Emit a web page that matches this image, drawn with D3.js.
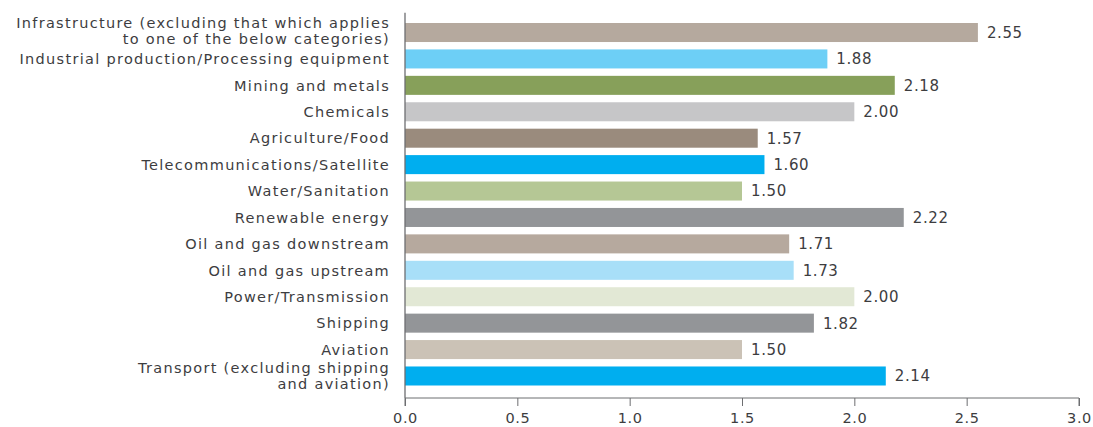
<!DOCTYPE html>
<html><head><meta charset="utf-8">
<script src="https://cdn.jsdelivr.net/npm/d3@7"></script>
<style>
html,body{margin:0;padding:0;background:#fff;}
svg text{font-family:"DejaVu Sans",sans-serif;}
</style></head>
<body><svg id="c" width="1093" height="427"></svg>
<script>
const categories = [
  ["Infrastructure (excluding that which applies","to one of the below categories)"],
  ["Industrial production/Processing equipment"],
  ["Mining and metals"],
  ["Chemicals"],
  ["Agriculture/Food"],
  ["Telecommunications/Satellite"],
  ["Water/Sanitation"],
  ["Renewable energy"],
  ["Oil and gas downstream"],
  ["Oil and gas upstream"],
  ["Power/Transmission"],
  ["Shipping"],
  ["Aviation"],
  ["Transport (excluding shipping","and aviation)"]
];
const values = [2.55, 1.88, 2.18, 2.00, 1.57, 1.60, 1.50, 2.22, 1.71, 1.73, 2.00, 1.82, 1.50, 2.14];
const colors = ["#b5a99e","#6dcff6","#87a05a","#c6c6c8","#9a8b7d","#00aeef","#b5c795","#939598","#b6a99e","#a8dff8","#e2e8d5","#939598","#cbc2b6","#00aeef"];
const xTicks = [0, 0.5, 1.0, 1.5, 2.0, 2.5, 3.0];

const svg = d3.select("#c");
const x0 = 405, x1 = 1079, yTop = 12.7, yBase = 398;
const x = d3.scaleLinear().domain([0, 3]).range([x0, x1]);
const idx = d3.range(values.length);
const y = d3.scaleBand().domain(idx).range([19.3, 389.2]).paddingInner(0.28).paddingOuter(0.14);

const axisColor = "#6d6e71";
const textColor = "#3d3d3f";

// bars
svg.append("g").selectAll("rect").data(idx).join("rect")
  .attr("x", x(0)).attr("y", i => y(i))
  .attr("width", i => x(values[i]) - x(0))
  .attr("height", y.bandwidth())
  .attr("fill", i => colors[i]);

// value labels
svg.append("g").selectAll("text").data(idx).join("text")
  .attr("x", i => x(values[i]) + 9)
  .attr("y", i => y(i) + y.bandwidth()/2)
  .attr("dy", "0.36em")
  .attr("font-size", 15)
  .attr("letter-spacing", 0.6)
  .attr("fill", textColor)
  .text(i => values[i].toFixed(2));

// category labels
const lg = svg.append("g");
idx.forEach(i => {
  const lines = categories[i];
  const cy = y(i) + y.bandwidth()/2 - (i === 0 ? 1.5 : 0);
  const lh = 16.3;
  const t = lg.append("text")
    .attr("text-anchor", "end")
    .attr("font-size", 14.5)
    .attr("letter-spacing", 1.3)
    .attr("fill", textColor);
  lines.forEach((ln, k) => {
    t.append("tspan")
      .attr("x", 390)
      .attr("y", cy + (k - (lines.length - 1) / 2) * lh)
      .attr("dy", "0.36em")
      .text(ln);
  });
});

// x axis
const xa = svg.append("g").attr("transform", `translate(0,${yBase})`)
  .call(d3.axisBottom(x).tickValues(xTicks).tickFormat(d3.format(".1f")).tickSize(8).tickPadding(7));
xa.select(".domain").attr("stroke", axisColor).attr("d", `M${x0},8V0H${x1}V8`);
xa.selectAll(".tick line").attr("stroke", axisColor);
xa.selectAll(".tick text").attr("font-size", 14.5).attr("letter-spacing", 0.6).attr("fill", textColor)
  .style("font-family", '"DejaVu Sans",sans-serif');

// y axis line
svg.append("line").attr("x1", x0).attr("x2", x0).attr("y1", yTop).attr("y2", yBase)
  .attr("stroke", axisColor).attr("stroke-width", 1.3);
</script></body></html>
